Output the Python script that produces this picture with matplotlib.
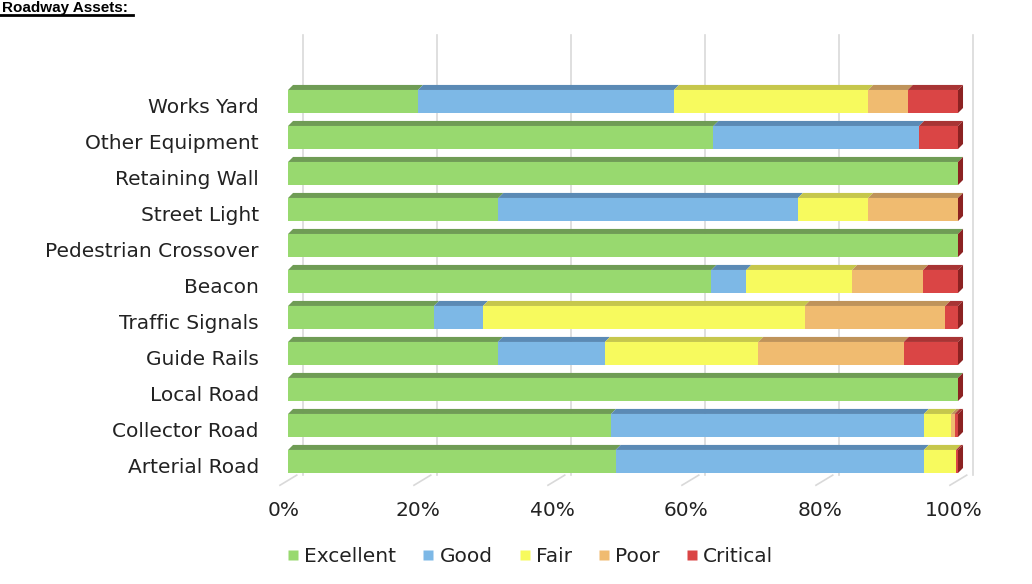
import matplotlib
matplotlib.use('Agg')
import matplotlib.pyplot as plt
from matplotlib.patches import Polygon
from matplotlib.lines import Line2D
from matplotlib.transforms import ScaledTranslation

plt.rcParams['font.family'] = ['DejaVu Sans']

# rows listed bottom -> top
categories = ['Arterial Road', 'Collector Road', 'Local Road', 'Guide Rails',
              'Traffic Signals', 'Beacon', 'Pedestrian Crossover', 'Street Light',
              'Retaining Wall', 'Other Equipment', 'Works Yard']
conditions = ['Excellent', 'Good', 'Fair', 'Poor', 'Critical']

excellent = [48.9, 48.2, 100.0, 31.3, 21.8, 63.2, 100.0, 31.4, 100.0, 63.5, 19.4]
good      = [46.0, 46.7, 0.0, 16.0, 7.3, 5.2, 0.0, 44.7, 0.0, 30.7, 38.2]
fair      = [4.8, 4.1, 0.0, 22.9, 48.0, 15.8, 0.0, 10.5, 0.0, 0.0, 29.0]
poor      = [0.0, 0.5, 0.0, 21.7, 21.0, 10.6, 0.0, 13.4, 0.0, 0.0, 5.9]
critical  = [0.3, 0.5, 0.0, 8.1, 1.9, 5.2, 0.0, 0.0, 0.0, 5.8, 7.5]

xticks = [0, 20, 40, 60, 80, 100]
xticklabels = ['0%', '20%', '40%', '60%', '80%', '100%']

front_colors = ['#98d96f', '#7db8e6', '#f7fa5e', '#f0bb70', '#da4545']
top_colors = ['#6f9c55', '#5b8ab5', '#c6c74c', '#bf935a', '#a83434']
end_color = '#8c2222'

fig = plt.figure(figsize=(10.32, 5.84), dpi=100)
ax = fig.add_axes([270 / 1032, 1 - 500 / 584, 730 / 1032, 475 / 584])
ax.set_xlim(-2.69, 106.27)
ax.set_ylim(-1.07, 12.125)

bar_h = 0.64
dx, dy = 0.75, 0.14        # bar depth
wall_dx = 2.24            # back wall offset

# back wall gridlines and floor ticks
for v in xticks:
    ax.plot([v + wall_dx, v + wall_dx], [-0.37, 11.85], color='#d9d9d9', lw=1.2, zorder=0)
    ax.plot([v - 1.2, v + 1.3], [-0.66, -0.38], color='#d9d9d9', lw=1.2, zorder=0)

series = [excellent, good, fair, poor, critical]
rows = list(range(len(categories)))
lefts = [0.0] * len(categories)
for vals, fc, tc in zip(series, front_colors, top_colors):
    ax.barh(rows, vals, left=lefts, height=bar_h, color=fc, edgecolor='none', zorder=2)
    for r, (l, w) in enumerate(zip(lefts, vals)):
        if w <= 0:
            continue
        top = r + bar_h / 2
        ax.add_patch(Polygon([(l, top), (l + w, top), (l + w + dx, top + dy), (l + dx, top + dy)],
                             closed=True, facecolor=tc, edgecolor='none', zorder=2))
    lefts = [l + w for l, w in zip(lefts, vals)]

# right end faces
for r, total in enumerate(lefts):
    b, t = r - bar_h / 2, r + bar_h / 2
    ax.add_patch(Polygon([(total, b), (total, t), (total + dx, t + dy), (total + dx, b + dy)],
                         closed=True, facecolor=end_color, edgecolor='none', zorder=2))

ax.set_yticks(rows)
ax.set_yticklabels(categories, fontsize=14.5, color='#222222')
ax.set_xticks(xticks)
ax.set_xticklabels(xticklabels, fontsize=14.5, color='#222222')
ax.tick_params(axis='y', length=0, pad=8)
ax.tick_params(axis='x', length=0, pad=1)
for lab in ax.get_yticklabels():
    lab.set_transform(lab.get_transform() + ScaledTranslation(0, -4 / 100, fig.dpi_scale_trans))
for lab in ax.get_xticklabels():
    lab.set_transform(lab.get_transform() + ScaledTranslation(-4 / 100, 0, fig.dpi_scale_trans))
for s in ax.spines.values():
    s.set_visible(False)

handles = [Line2D([], [], marker='s', linestyle='none', markersize=7, color=c,
                  markeredgecolor='none') for c in front_colors]
fig.legend(handles, conditions, loc='center', bbox_to_anchor=(530 / 1032, 1 - 557 / 584),
           ncol=5, frameon=False, fontsize=14.5, handlelength=0.6, handletextpad=0.25,
           columnspacing=1.3, labelcolor='#222222')

# section heading at the top-left corner
fig.text(2 / 1032, 1 - 12 / 584, 'Roadway Assets:', ha='left', va='baseline',
         fontsize=11, fontweight='bold', family=['Liberation Sans', 'DejaVu Sans'])
fig.add_artist(Line2D([0, 133 / 1032], [1 - 14.5 / 584, 1 - 14.5 / 584], color='black', lw=2))

fig.savefig('out.png', dpi=100)
